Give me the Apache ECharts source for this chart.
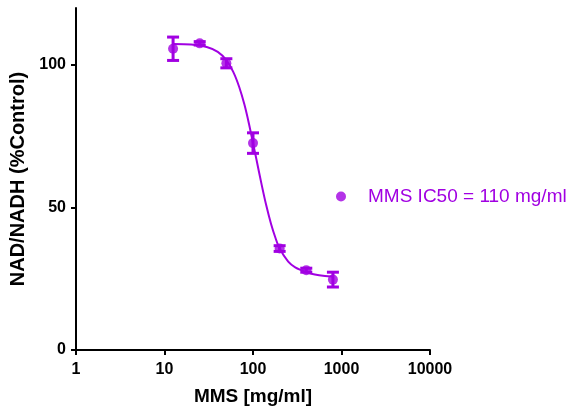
<!DOCTYPE html>
<html>
<head>
<meta charset="utf-8">
<style>
  html, body { margin: 0; padding: 0; background: #ffffff; }
  #chart { width: 574px; height: 406px; }
</style>
<script src="https://cdn.jsdelivr.net/npm/echarts@6/dist/echarts.min.js"></script>
</head>
<body>
<div id="chart"></div>
<script>
// MMS concentrations (mg/ml)
const concentrations = [12.5, 25, 50, 100, 200, 400, 800];
// NAD/NADH as % of control, mean per concentration
const meanValues = [105.7, 107.6, 100.6, 72.6, 35.6, 28.0, 24.7];
// error bar half-widths (SD)
const errorValues = [4.1, 0.6, 1.6, 3.6, 1.0, 0.7, 2.6];
// fitted dose-response curve: concentration and response
const curveX = [12.5, 20, 30, 40, 50, 60, 70, 80, 90, 100, 110, 125, 140, 160, 180, 200, 250, 300, 400, 500, 650, 800];
const curveY = [107.4, 107.2, 106.3, 104.6, 101.7, 97.5, 92.2, 86.1, 79.4, 72.6, 66.5, 58.1, 51.2, 44.2, 39.2, 35.6, 31.0, 29.0, 27.3, 26.5, 26.0, 25.8];
// axis ticks
const xTicks = [1, 10, 100, 1000, 10000];
const yTicks = [0, 50, 100];
const seriesName = 'MMS IC50 = 110 mg/ml';

const purple = '#a100e2';
const font = '"Liberation Sans", Arial, sans-serif';

const points = concentrations.map((c, i) => [c, meanValues[i]]);
const errorData = concentrations.map((c, i) => [c, meanValues[i] - errorValues[i], meanValues[i] + errorValues[i]]);
const curve = curveX.map((c, i) => [c, curveY[i]]);

const chart = echarts.init(document.getElementById('chart'), null, { renderer: 'canvas' });

chart.setOption({
  animation: false,
  backgroundColor: '#ffffff',
  textStyle: { fontFamily: font },
  grid: { left: 76, right: 144, top: 8, bottom: 56, containLabel: false, outerBoundsMode: 'none' },
  legend: {
    left: 331,
    top: 182,
    orient: 'vertical',
    icon: 'circle',
    itemWidth: 10,
    itemHeight: 10,
    itemGap: 10,
    data: [seriesName],
    textStyle: { color: purple, fontSize: 19, fontFamily: font, padding: [0, 0, 0, 17] }
  },
  xAxis: {
    type: 'log',
    logBase: 10,
    min: xTicks[0],
    max: xTicks[xTicks.length - 1],
    name: 'MMS [mg/ml]',
    nameLocation: 'middle',
    nameGap: 37,
    nameTextStyle: { color: '#000', fontSize: 19, fontWeight: 'bold', fontFamily: font },
    axisLine: { show: true, onZero: false, lineStyle: { color: '#000', width: 2 } },
    axisTick: { show: true, length: 5, lineStyle: { color: '#000', width: 2 } },
    minorTick: { show: false },
    splitLine: { show: false },
    axisLabel: {
      color: '#000', fontSize: 16, fontWeight: 'bold', fontFamily: font, margin: 12,
      formatter: v => String(Math.round(v))
    }
  },
  yAxis: {
    type: 'value',
    min: 0,
    max: 120,
    interval: 50,
    name: 'NAD/NADH (%Control)',
    nameLocation: 'middle',
    nameGap: 42,
    nameTextStyle: { color: '#000', fontSize: 20, fontWeight: 'bold', fontFamily: font },
    axisLine: { show: true, lineStyle: { color: '#000', width: 2 } },
    axisTick: { show: true, length: 5, customValues: yTicks, lineStyle: { color: '#000', width: 2 } },
    splitLine: { show: false },
    axisLabel: {
      color: '#000', fontSize: 16, fontWeight: 'bold', fontFamily: font, margin: 10,
      customValues: yTicks
    }
  },
  series: [
    {
      name: 'fit',
      type: 'line',
      data: curve,
      smooth: 0.3,
      showSymbol: false,
      symbol: 'none',
      lineStyle: { color: purple, width: 2 },
      z: 2
    },
    {
      name: 'error',
      type: 'custom',
      data: errorData,
      renderItem: function (params, api) {
        const x = api.value(0);
        const lo = api.coord([x, api.value(1)]);
        const hi = api.coord([x, api.value(2)]);
        const half = 6;
        const style = { stroke: purple, lineWidth: 3 };
        return {
          type: 'group',
          children: [
            { type: 'line', shape: { x1: lo[0], y1: lo[1], x2: hi[0], y2: hi[1] }, style: style },
            { type: 'line', shape: { x1: lo[0] - half, y1: lo[1], x2: lo[0] + half, y2: lo[1] }, style: style },
            { type: 'line', shape: { x1: hi[0] - half, y1: hi[1], x2: hi[0] + half, y2: hi[1] }, style: style }
          ]
        };
      },
      z: 3
    },
    {
      name: seriesName,
      type: 'scatter',
      data: points,
      symbol: 'circle',
      symbolSize: 10,
      itemStyle: { color: purple },
      z: 4
    }
  ]
});
</script>
</body>
</html>
